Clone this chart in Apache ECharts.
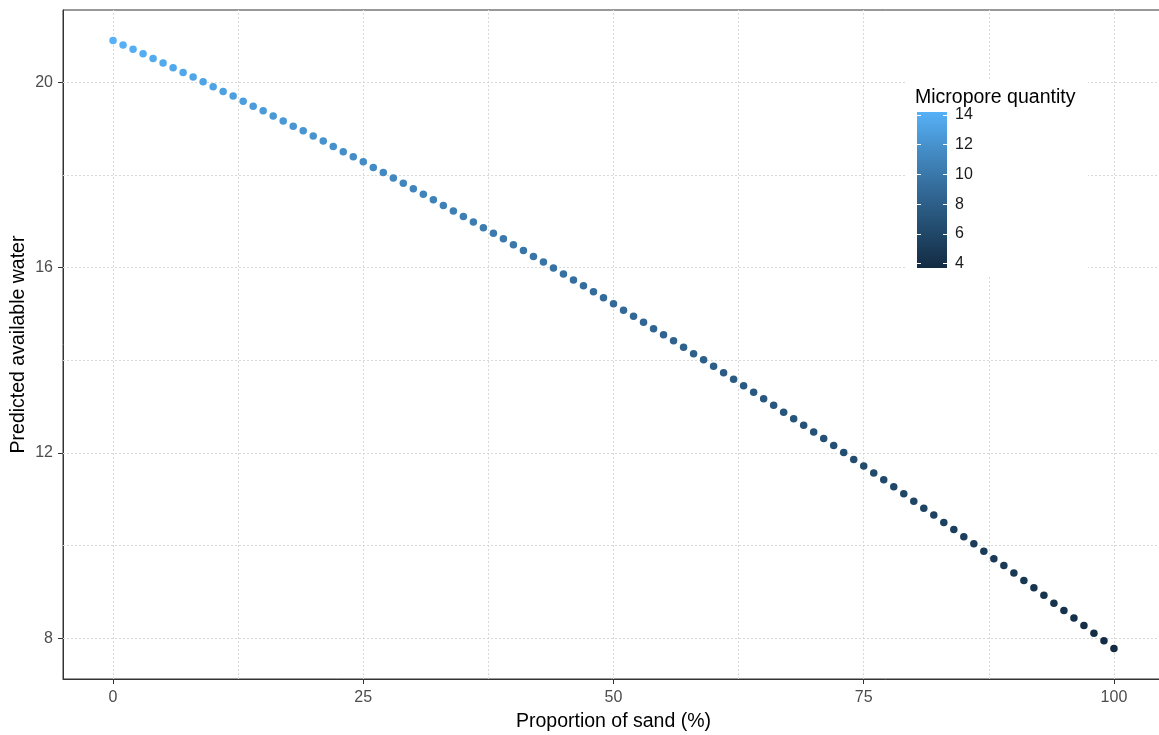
<!DOCTYPE html>
<html>
<head>
<meta charset="utf-8">
<script src="https://cdn.jsdelivr.net/npm/echarts@6/dist/echarts.min.js"></script>
<style>
html,body{margin:0;padding:0;background:#fff;}
#chart{width:1159px;height:735px;}
</style>
</head>
<body>
<div id="chart"></div>
<script>
// Proportion of sand (%)
const sand = [0,1,2,3,4,5,6,7,8,9,10,11,12,13,14,15,16,17,18,19,20,21,22,23,24,25,26,27,28,29,30,31,32,33,34,35,36,37,38,39,40,41,42,43,44,45,46,47,48,49,50,51,52,53,54,55,56,57,58,59,60,61,62,63,64,65,66,67,68,69,70,71,72,73,74,75,76,77,78,79,80,81,82,83,84,85,86,87,88,89,90,91,92,93,94,95,96,97,98,99,100];
// Predicted available water
const water = [
  20.90, 20.80, 20.71, 20.61, 20.51, 20.41, 20.31, 20.21, 20.11, 20.01,
  19.90, 19.80, 19.70, 19.59, 19.48, 19.38, 19.27, 19.16, 19.05, 18.95,
  18.84, 18.73, 18.61, 18.50, 18.39, 18.28, 18.16, 18.05, 17.93, 17.82,
  17.70, 17.58, 17.46, 17.34, 17.22, 17.10, 16.98, 16.86, 16.74, 16.62,
  16.49, 16.37, 16.24, 16.12, 15.99, 15.86, 15.73, 15.61, 15.48, 15.35,
  15.22, 15.08, 14.95, 14.82, 14.68, 14.55, 14.42, 14.28, 14.14, 14.01,
  13.87, 13.73, 13.59, 13.45, 13.31, 13.17, 13.03, 12.88, 12.74, 12.60,
  12.45, 12.31, 12.16, 12.01, 11.86, 11.72, 11.57, 11.42, 11.27, 11.12,
  10.96, 10.81, 10.66, 10.50, 10.35, 10.19, 10.04, 9.88, 9.72, 9.57,
  9.41, 9.25, 9.09, 8.93, 8.76, 8.60, 8.44, 8.28, 8.11, 7.95,
  7.78
];
// Micropore quantity (colour)
const micropore = [
  14.20, 14.10, 13.99, 13.89, 13.78, 13.68, 13.57, 13.47, 13.36, 13.26,
  13.15, 13.05, 12.94, 12.84, 12.73, 12.63, 12.52, 12.42, 12.31, 12.21,
  12.10, 12.00, 11.89, 11.79, 11.68, 11.58, 11.47, 11.37, 11.26, 11.16,
  11.05, 10.95, 10.84, 10.74, 10.63, 10.53, 10.42, 10.32, 10.21, 10.11,
  10.00, 9.90, 9.79, 9.69, 9.58, 9.48, 9.37, 9.27, 9.16, 9.06,
  8.95, 8.85, 8.74, 8.64, 8.53, 8.43, 8.32, 8.22, 8.11, 8.01,
  7.90, 7.80, 7.69, 7.59, 7.48, 7.38, 7.27, 7.17, 7.06, 6.96,
  6.85, 6.75, 6.64, 6.54, 6.43, 6.33, 6.22, 6.12, 6.01, 5.91,
  5.80, 5.70, 5.59, 5.49, 5.38, 5.28, 5.17, 5.07, 4.96, 4.86,
  4.75, 4.65, 4.54, 4.44, 4.33, 4.23, 4.12, 4.02, 3.91, 3.81,
  3.70
];
// Tick labels / gridlines
const xTicks = [0, 25, 50, 75, 100];
const yTicks = [8, 12, 16, 20];
const xGrid = [0, 12.5, 25, 37.5, 50, 62.5, 75, 87.5, 100];
const yGrid = [8, 10, 12, 14, 16, 18, 20];
const legendTicks = [4, 6, 8, 10, 12, 14];
const legendMin = 3.7, legendMax = 14.2;

const FONT = "'Liberation Sans', Arial, sans-serif";
const palette = ['#132B43', '#224B6D', '#336A98', '#448CC5', '#56B1F7'];

const chart = echarts.init(document.getElementById('chart'), null, {renderer: 'canvas'});
const points = sand.map((s, i) => [s, water[i], micropore[i]]);

const gridLineStyle = {color: '#d9d9d9', type: [2, 2], width: 1};
const markData = xGrid.map(v => ({xAxis: v})).concat(yGrid.map(v => ({yAxis: v})));

const option = {
  backgroundColor: '#ffffff',
  animation: false,
  textStyle: {fontFamily: FONT},
  grid: [
    {left: 63, top: 10, width: 1101, bottom: 56, containLabel: false, outerBoundsMode: 'none',
     show: true, borderColor: '#333333', borderWidth: 1, backgroundColor: 'transparent', z: 0},
    {left: 917, top: 112, width: 30, height: 156, containLabel: false, outerBoundsMode: 'none',
     show: true, borderWidth: 0, z: 5,
     backgroundColor: new echarts.graphic.LinearGradient(0, 1, 0, 0, palette.map((c, i) => ({offset: i / (palette.length - 1), color: c})))}
  ],
  xAxis: [
    {type: 'value', gridIndex: 0, min: -5, max: 105,
     name: 'Proportion of sand (%)', nameLocation: 'middle', nameGap: 33, nameMoveOverlap: false,
     nameTextStyle: {fontFamily: FONT, fontSize: 19.5, color: '#000000'},
     axisLine: {show: true, onZero: false, lineStyle: {color: '#333333', width: 1}},
     axisTick: {show: true, length: 5, lineStyle: {color: '#333333'}, customValues: xTicks},
     axisLabel: {show: true, customValues: xTicks, margin: 11, fontFamily: FONT, fontSize: 16, color: '#4D4D4D'},
     splitLine: {show: false}},
    {type: 'value', gridIndex: 1, min: 0, max: 1, show: false}
  ],
  yAxis: [
    {type: 'value', gridIndex: 0, min: 7.124, max: 21.556,
     name: 'Predicted available water', nameLocation: 'middle', nameGap: 34, nameMoveOverlap: false,
     nameTextStyle: {fontFamily: FONT, fontSize: 19.5, color: '#000000'},
     axisLine: {show: true, onZero: false, lineStyle: {color: '#333333', width: 1}},
     axisTick: {show: true, length: 5, lineStyle: {color: '#333333'}, customValues: yTicks},
     axisLabel: {show: true, customValues: yTicks, margin: 10, fontFamily: FONT, fontSize: 16, color: '#4D4D4D'},
     splitLine: {show: false}},
    {type: 'value', gridIndex: 1, min: legendMin, max: legendMax, position: 'right', z: 6,
     axisLine: {show: false, onZero: false},
     axisTick: {show: true, inside: true, length: 4, lineStyle: {color: '#ffffff', width: 1}, customValues: legendTicks},
     axisLabel: {show: true, customValues: legendTicks, margin: 8, fontFamily: FONT, fontSize: 16, color: '#1A1A1A'},
     splitLine: {show: false}},
    {type: 'value', gridIndex: 1, min: legendMin, max: legendMax, position: 'left', z: 6,
     axisLine: {show: false, onZero: false},
     axisTick: {show: true, inside: true, length: 4, lineStyle: {color: '#ffffff', width: 1}, customValues: legendTicks},
     axisLabel: {show: false},
     splitLine: {show: false}}
  ],
  visualMap: {
    type: 'continuous', show: false, seriesIndex: 1, dimension: 2,
    min: legendMin, max: legendMax,
    inRange: {color: palette}
  },
  graphic: [
    {type: 'rect', left: 905, top: 79, shape: {width: 183, height: 197}, style: {fill: '#ffffff'}, z: 4, silent: true},
    {type: 'text', left: 915, top: 88, style: {text: 'Micropore quantity', fill: '#000000', font: '19.5px ' + FONT}, z: 6, silent: true}
  ],
  series: [
    {type: 'scatter', xAxisIndex: 0, yAxisIndex: 0, data: [], z: 1, silent: true,
     markLine: {silent: true, z: 1, symbol: 'none', label: {show: false}, lineStyle: gridLineStyle, data: markData, animation: false,
                emphasis: {disabled: true}}},
    {type: 'scatter', xAxisIndex: 0, yAxisIndex: 0, data: points, symbol: 'circle', symbolSize: 7.5, z: 3,
     itemStyle: {opacity: 1}}
  ]
};
chart.setOption(option);
</script>
</body>
</html>
